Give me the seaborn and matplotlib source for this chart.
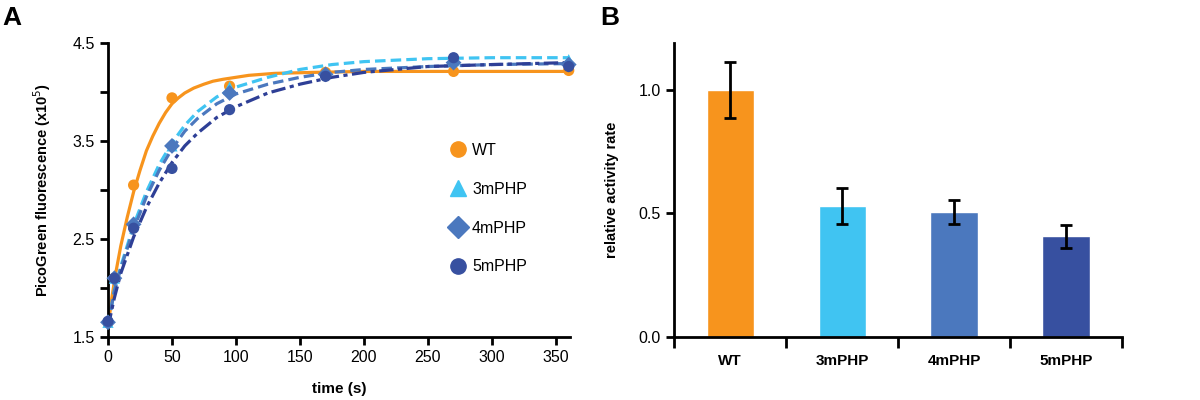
import pandas as pd
import matplotlib.pyplot as plt
from matplotlib.lines import Line2D
import seaborn as sns

# measured points (panel A)
time_pts = [0, 5, 20, 50, 95, 170, 270, 360]
wt_pts = [1.65, 2.10, 3.05, 3.94, 4.06, 4.20, 4.21, 4.22]
m3_pts = [1.65, 2.10, 2.65, 3.45, 4.05, 4.20, 4.32, 4.33]
m4_pts = [1.65, 2.10, 2.65, 3.45, 3.99, 4.18, 4.30, 4.28]
m5_pts = [1.66, 2.10, 2.61, 3.22, 3.82, 4.16, 4.35, 4.26]

# fitted curves
wt_fit_t = [0, 3, 6, 10, 15, 20, 25, 30, 35, 40, 45, 50, 55, 60, 67, 75, 82, 90, 100, 110,
            130, 160, 200, 250, 300, 360]
wt_fit = [1.60, 1.90, 2.15, 2.43, 2.72, 2.98, 3.20, 3.40, 3.55, 3.68, 3.79, 3.88, 3.94, 3.99,
          4.04, 4.08, 4.11, 4.13, 4.15, 4.17, 4.19, 4.20, 4.21, 4.21, 4.21, 4.21]
fit_t = [0, 5, 10, 20, 30, 40, 50, 60, 70, 85, 100, 125, 150, 175, 200, 250, 300, 360]
m3_fit = [1.62, 1.98, 2.22, 2.64, 2.98, 3.26, 3.48, 3.66, 3.80, 3.95, 4.05, 4.15, 4.23, 4.28,
          4.31, 4.34, 4.35, 4.35]
m4_fit = [1.62, 1.97, 2.20, 2.60, 2.93, 3.20, 3.42, 3.60, 3.73, 3.88, 3.98, 4.08, 4.15, 4.20,
          4.23, 4.26, 4.28, 4.29]
m5_fit = [1.60, 1.90, 2.15, 2.52, 2.82, 3.07, 3.28, 3.45, 3.58, 3.74, 3.85, 3.99, 4.08, 4.15,
          4.20, 4.26, 4.28, 4.30]

# panel B
variants = ["WT", "3mPHP", "4mPHP", "5mPHP"]
activity = [1.00, 0.53, 0.506, 0.408]
activity_err = [0.115, 0.073, 0.05, 0.047]

colors = ["#F7941D", "#40C4F2", "#4B78BE", "#3750A0"]
line_colors = ["#F7941D", "#40C4F2", "#4B78BE", "#2E3F96"]
markers = ["o", "^", "D", "o"]

sns.set_theme(style="ticks")
plt.rcParams["font.family"] = ["Liberation Sans", "DejaVu Sans"]
plt.rcParams["text.color"] = "black"
plt.rcParams["axes.labelcolor"] = "black"
plt.rcParams["xtick.color"] = "black"
plt.rcParams["ytick.color"] = "black"

fig = plt.figure(figsize=(12, 4), dpi=100)
ax1 = fig.add_axes([0.09, 0.1575, 0.385, 0.735])
ax2 = fig.add_axes([0.5617, 0.1575, 0.3733, 0.735])

# --- panel A ---
curves = [(wt_fit_t, wt_fit, "-"),
          (fit_t, m3_fit, (0, (3.3, 1.6))),
          (fit_t, m4_fit, (0, (3.3, 1.6))),
          (fit_t, m5_fit, (0, (4.5, 1.4, 1.3, 1.4)))]
for (tt, yy, ls), c in zip(curves, line_colors):
    sns.lineplot(x=tt, y=yy, color=c, linewidth=2.3, linestyle=ls, ax=ax1)

for pts, c, m in zip([wt_pts, m3_pts, m4_pts, m5_pts], colors, markers):
    sns.scatterplot(x=time_pts, y=pts, color=c, marker=m, s=65, edgecolor="none",
                    ax=ax1, zorder=3, clip_on=False)

ax1.set_xlim(0, 361)
ax1.set_ylim(1.5, 4.5)
ax1.set_xticks(range(0, 351, 50))
ax1.set_yticks([1.5, 2.0, 2.5, 3.0, 3.5, 4.0, 4.5])
ax1.set_yticklabels(["1.5", "", "2.5", "", "3.5", "", "4.5"])
ax1.set_xlabel("time (s)", fontsize=11, fontweight="bold", labelpad=12)
ax1.set_ylabel("PicoGreen fluorescence (x10$^{5}$)", fontsize=10.5, fontweight="bold",
               labelpad=14)

handles = [Line2D([], [], linestyle="none", marker=m, color=c, markersize=11)
           for c, m in zip(colors, markers)]
ax1.legend(handles, variants, loc="center left", bbox_to_anchor=(0.705, 0.437),
           frameon=False, fontsize=11.5, labelspacing=1.5, handletextpad=0.3,
           handlelength=1.2)

# --- panel B ---
sns.barplot(x=variants, y=activity, hue=variants, palette=colors, legend=False,
            width=0.42, saturation=1, ax=ax2)
ax2.errorbar(range(len(variants)), activity, yerr=activity_err, fmt="none",
             ecolor="black", elinewidth=2, capsize=4, capthick=2)
ax2.set_xlim(-0.5, 3.5)
ax2.set_ylim(0, 1.19)
ax2.set_yticks([0.0, 0.5, 1.0])
ax2.set_yticklabels(["0.0", "0.5", "1.0"])
ax2.set_xticks(range(len(variants)))
ax2.set_xticks([-0.5, 0.5, 1.5, 2.5, 3.5], minor=True)
ax2.tick_params(axis="x", which="major", length=0, pad=12)
ax2.tick_params(axis="x", which="minor", length=8, width=2)
ax2.set_ylabel("relative activity rate", fontsize=10.5, fontweight="bold", labelpad=14)

for ax in (ax1, ax2):
    sns.despine(ax=ax)
    for s in ("left", "bottom"):
        ax.spines[s].set_linewidth(2)
        ax.spines[s].set_color("black")
    ax.tick_params(axis="y", length=6, width=2, labelsize=11.5, colors="black")
    ax.tick_params(axis="x", labelsize=11.5, colors="black")
ax1.tick_params(axis="x", length=6, width=2)
ax2.set_xticklabels(variants, fontweight="bold", fontsize=11)

fig.text(0.002, 0.955, "A", fontsize=19, fontweight="bold", va="center", color="black")
fig.text(0.5, 0.955, "B", fontsize=19, fontweight="bold", va="center", color="black")

fig.savefig("out.png", dpi=100)
